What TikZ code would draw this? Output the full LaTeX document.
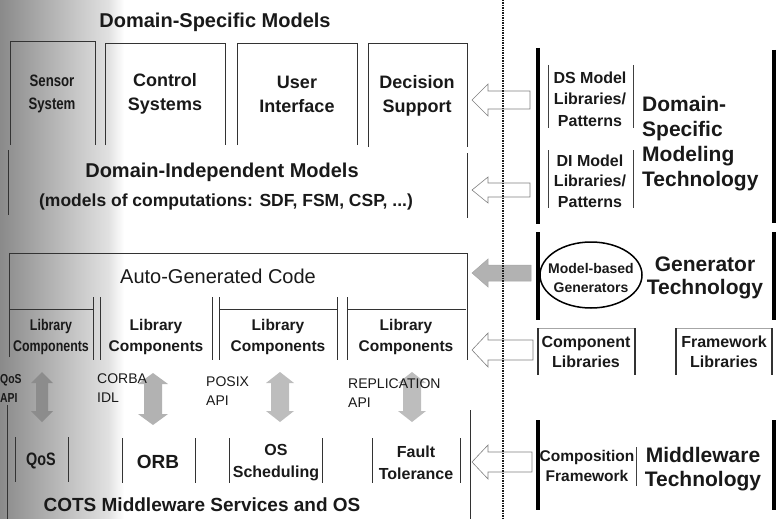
\documentclass[tikz,border=0pt]{standalone}
\usepackage{fontspec}
\setmainfont{Liberation Sans}
\newfontfamily\narrowsans[FakeStretch=0.8]{Liberation Sans}
\usetikzlibrary{shapes.geometric}

% left-pointing block arrow: style, centre y, head half-height, shaft half-height, tail x
\newcommand\leftblock[5]{%
  \draw[#1] (472,#2) -- (488,#2-#3) -- (488,#2-#4) -- (#5,#2-#4)
    -- (#5,#2+#4) -- (488,#2+#4) -- (488,#2+#3) -- cycle;}
% vertical two-headed block arrow: style, x, top y, bottom y, shaft half-width, head half-width
\newcommand\updownblock[6]{%
  \fill[#1] (#2,#3) -- (#2+#6,#3+11) -- (#2+#5,#3+11) -- (#2+#5,#4-11)
    -- (#2+#6,#4-11) -- (#2,#4) -- (#2-#6,#4-11) -- (#2-#5,#4-11)
    -- (#2-#5,#3+11) -- (#2-#6,#3+11) -- cycle;}

\begin{document}
\begin{tikzpicture}[x=1pt,y=-1pt,
  frame/.style={draw=black!80, line width=0.8pt},
  thinframe/.style={draw=black!75, line width=0.6pt},
  faint/.style={draw=black!35, line width=0.5pt},
  bar/.style={draw=black, line width=3.4pt},
  hollow/.style={draw=black!50, line width=0.6pt, fill=white},
  txt/.style={inner sep=0pt, align=center, text=black!90},
  big/.style={txt, font=\bfseries\fontsize{20}{24}\selectfont},
  mid/.style={txt, font=\bfseries\fontsize{18}{24}\selectfont},
  lib/.style={txt, font=\bfseries\fontsize{15.5}{21}\selectfont},
  tech/.style={txt, font=\bfseries\fontsize{21}{25}\selectfont},
  api/.style={txt, align=left, anchor=west, font=\fontsize{14}{19}\selectfont},
]
\useasboundingbox (0,0) rectangle (776,519);

% page shading along the binding edge
\shade[left color=black!46, right color=black!12] (0,0) rectangle (108,519);
\shade[left color=black!12, right color=white] (108,0) rectangle (124,519);

% ---------------- left column: layered models ----------------
\node[big] (dsm) at (215,22) {Domain-Specific Models};

% application domain boxes (open at the bottom)
\draw[frame] (10,145) -- (10,41) -- (95,41) -- (95,145);
\draw[frame] (105,145) -- (105,43) -- (225,43) -- (225,145);
\draw[frame] (237,145) -- (237,43) -- (357,43) -- (357,145);
\draw[frame] (368,147) -- (368,43) -- (467,43) -- (467,147);
\node[txt, font=\narrowsans\bfseries\fontsize{16.5}{23}\selectfont] (sensor) at (52,94) {Sensor\\System};
\node[mid] (control) at (165,94) {Control\\Systems};
\node[mid] (userif) at (297,94) {User\\Interface};
\node[mid] (decision) at (417,96) {Decision\\Support};

% domain-independent layer
\draw[frame] (8,150) -- (8,215);
\draw[frame] (467,153) -- (467,218);
\node[big] (dim) at (222,172) {Domain-Independent Models};
\node[txt, font=\bfseries\fontsize{17.5}{22}\selectfont] (moc) at (226,202)
  {(models of computations: SDF, FSM, CSP, ...)};

% generated code and library components
\draw[frame] (9,357) -- (9,253) -- (467,253) -- (467,360);
\node[txt, font=\fontsize{20}{24}\selectfont] (auto) at (218,276) {Auto-Generated Code};
\draw[frame] (9,309) -- (93,309);
\draw[frame] (219,309) -- (337,309);
\draw[frame] (347,309) -- (466,309);
\foreach \xx in {93,100,212,219,337,347}
  \draw[frame] (\xx,297) -- (\xx,360);
\node[txt, font=\narrowsans\bfseries\fontsize{15.5}{21}\selectfont] (libA) at (51,337) {Library\\Components};
\node[lib] (libB) at (156,337) {Library\\Components};
\node[lib] (libC) at (278,337) {Library\\Components};
\node[lib] (libD) at (406,337) {Library\\Components};

% service interfaces
\updownblock{black!45}{42}{372}{422}{6}{11}
\updownblock{black!30}{153}{373}{425}{9}{15}
\updownblock{black!26}{280}{372}{422}{9}{14}
\updownblock{black!26}{412}{372}{422}{9}{14}
\node[txt, align=left, anchor=west, font=\narrowsans\bfseries\fontsize{13}{19}\selectfont] (qosapi) at (0,388) {QoS\\API};
\node[api] (corba) at (97,388) {CORBA\\IDL};
\node[api] (posix) at (206,391) {POSIX\\API};
\node[api] (repl) at (348,393) {REPLICATION\\API};

% middleware services
\draw[frame] (7,405) -- (7,519);
\draw[frame] (470,410) -- (470,519);
\draw[frame] (15,437) -- (15,482);  \draw[frame] (68,437) -- (68,482);
\draw[frame] (122,438) -- (122,483); \draw[frame] (195,438) -- (195,483);
\draw[frame] (229,438) -- (229,483); \draw[frame] (322,438) -- (322,483);
\draw[frame] (372,438) -- (372,483); \draw[frame] (460,438) -- (460,483);
\node[txt, font=\narrowsans\bfseries\fontsize{18}{22}\selectfont] (qos) at (41,461) {QoS};
\node[txt, font=\bfseries\fontsize{19}{22}\selectfont] (orb) at (158,462) {ORB};
\node[txt, font=\bfseries\fontsize{16}{22}\selectfont] (ossched) at (276,463) {OS\\Scheduling};
\node[txt, font=\bfseries\fontsize{16}{22}\selectfont] (fault) at (416,463) {Fault\\Tolerance};
\node[txt, font=\bfseries\fontsize{19}{22}\selectfont] (cots) at (202,505) {COTS Middleware Services and OS};

% ---------------- arrows into the layers ----------------
\leftblock{hollow}{100}{16}{9}{530}
\leftblock{hollow}{190}{13}{7}{530}
\leftblock{draw=black!35, line width=0.5pt, fill=black!30}{273}{14}{8}{531}
\leftblock{hollow}{350}{17}{10}{533}
\leftblock{hollow}{462}{17}{10}{532}

% divider
\draw[black!90, line width=1.1pt, dash pattern=on 1.5pt off 1pt] (503,0) -- (503,519);

% ---------------- right column: technologies ----------------
% domain-specific modeling technology
\draw[bar] (538,48) -- (538,224);
\draw[bar] (774,50) -- (774,223);
\draw[thinframe] (548,65) -- (548,128); \draw[thinframe] (633,65) -- (633,128);
\draw[thinframe] (548,150) -- (548,208); \draw[thinframe] (633,150) -- (633,208);
\node[txt, font=\bfseries\fontsize{16}{21.5}\selectfont] (dslib) at (590,99) {DS Model\\Libraries/\\Patterns};
\node[txt, font=\bfseries\fontsize{16}{20.5}\selectfont] (dilib) at (590,181) {DI Model\\Libraries/\\Patterns};
\node[tech, align=left, anchor=west] (dsmt) at (642,144) {Domain-\\Specific\\Modeling\\Technology};

% generator technology
\draw[bar] (538,232) -- (538,320);
\draw[bar] (774,232) -- (774,320);
\node[draw=black, ellipse, line width=1.5pt, inner sep=0pt,
      minimum width=102pt, minimum height=66pt] (mbg) at (591,275) {};
\node[txt, font=\bfseries\fontsize{14}{19}\selectfont] (mbgtext) at (591,278) {Model-based\\Generators};
\node[tech, font=\bfseries\fontsize{21}{23}\selectfont] (gent) at (705,278) {Generator\\Technology};

% component and framework libraries
\draw[faint] (538,328) -- (635,328);
\draw[faint] (676,328) -- (772,328);
\draw[frame, line width=1.4pt] (538,328) -- (538,375);
\draw[frame, line width=1.2pt] (635,328) -- (635,375);
\draw[frame, line width=1.2pt] (676,328) -- (676,375);
\draw[frame, line width=1.4pt] (772,328) -- (772,375);
\node[txt, font=\bfseries\fontsize{16}{20}\selectfont] (complib) at (586,352) {Component\\Libraries};
\node[txt, font=\bfseries\fontsize{16}{20}\selectfont] (framelib) at (724,352) {Framework\\Libraries};

% middleware technology
\draw[bar] (538,420) -- (538,510);
\draw[bar] (774,420) -- (774,510);
\draw[thinframe] (636,447) -- (636,486);
\node[txt, font=\bfseries\fontsize{15.5}{20}\selectfont] (compfw) at (587,466) {Composition\\Framework};
\node[tech, font=\bfseries\fontsize{21}{24}\selectfont] (mwt) at (703,469) {Middleware\\Technology};
\end{tikzpicture}
\end{document}
